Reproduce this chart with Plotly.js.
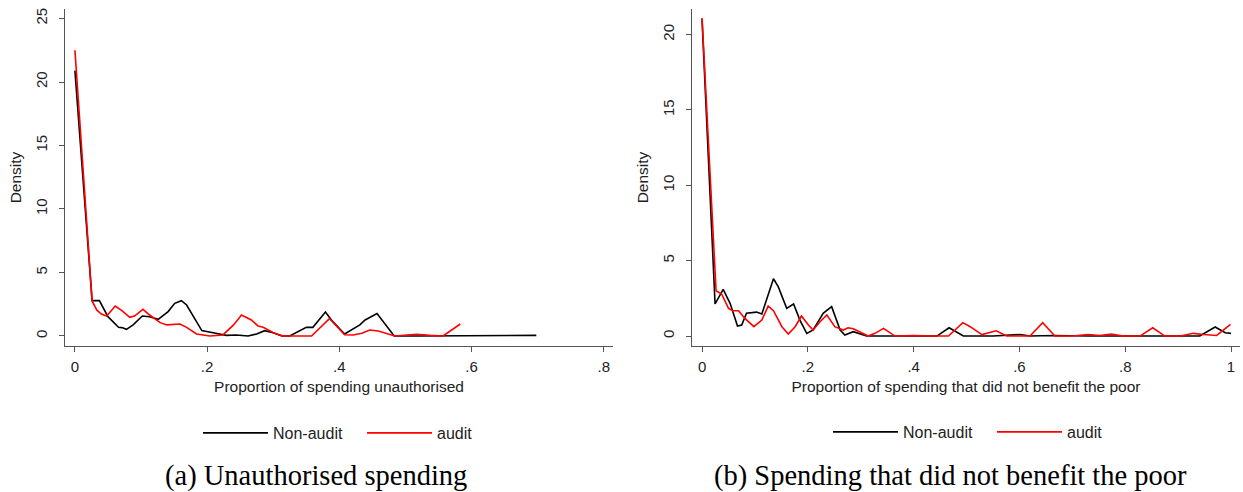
<!DOCTYPE html>
<html>
<head>
<meta charset="utf-8">
<script src="https://cdn.plot.ly/plotly-3.0.1.min.js"></script>
<style>html,body{margin:0;padding:0;background:#fff;}#chart{width:1243px;height:492px;}</style>
</head>
<body>
<div id="chart"></div>
<script>
// ---- data ----
const leftNonAuditX = [0, 0.026, 0.037, 0.050, 0.066, 0.071, 0.078, 0.088, 0.102, 0.113, 0.126, 0.141, 0.151, 0.161, 0.169, 0.192, 0.209, 0.229, 0.244, 0.262, 0.275, 0.287, 0.300, 0.313, 0.325, 0.350, 0.360, 0.371, 0.379, 0.388, 0.408, 0.431, 0.439, 0.457, 0.483, 0.52, 0.56, 0.60, 0.64, 0.66, 0.68, 0.698];
const leftNonAuditY = [20.9, 2.78, 2.78, 1.52, 0.68, 0.66, 0.52, 0.87, 1.57, 1.52, 1.31, 1.92, 2.57, 2.78, 2.44, 0.42, 0.26, 0.05, 0.08, 0.0, 0.16, 0.42, 0.26, 0.0, 0.0, 0.68, 0.68, 1.39, 1.89, 1.26, 0.16, 0.87, 1.26, 1.76, 0.0, 0.0, 0.0, 0.0, 0.0, 0.05, 0.02, 0.05];

const leftAuditX = [0, 0.026, 0.033, 0.040, 0.048, 0.061, 0.071, 0.083, 0.090, 0.103, 0.113, 0.129, 0.139, 0.159, 0.169, 0.184, 0.204, 0.224, 0.240, 0.252, 0.267, 0.277, 0.285, 0.300, 0.315, 0.330, 0.358, 0.385, 0.408, 0.421, 0.434, 0.446, 0.459, 0.484, 0.517, 0.537, 0.557, 0.583];
const leftAuditY = [22.5, 2.76, 2.05, 1.73, 1.57, 2.36, 1.99, 1.47, 1.57, 2.10, 1.65, 1.05, 0.87, 0.94, 0.68, 0.16, 0.0, 0.08, 0.87, 1.65, 1.26, 0.79, 0.68, 0.26, 0.0, 0.0, 0.0, 1.37, 0.10, 0.08, 0.21, 0.47, 0.39, 0.0, 0.13, 0.05, 0.0, 0.94];

const rightNonAuditX = [0, 0.0246, 0.040, 0.053, 0.067, 0.075, 0.084, 0.103, 0.113, 0.135, 0.144, 0.160, 0.173, 0.185, 0.198, 0.210, 0.229, 0.245, 0.261, 0.270, 0.286, 0.311, 0.336, 0.40, 0.444, 0.467, 0.494, 0.55, 0.58, 0.601, 0.62, 0.665, 0.73, 0.80, 0.88, 0.941, 0.970, 0.989, 1.0];
const rightNonAuditY = [21.0, 2.13, 3.1, 2.17, 0.66, 0.73, 1.51, 1.59, 1.46, 3.8, 3.28, 1.84, 2.13, 1.06, 0.18, 0.40, 1.51, 1.95, 0.40, 0.07, 0.29, 0, 0, 0, 0, 0.55, 0, 0, 0.04, 0.10, 0, 0.04, 0, 0, 0, 0, 0.60, 0.22, 0.18];

const rightAuditX = [0, 0.0265, 0.037, 0.050, 0.058, 0.069, 0.081, 0.098, 0.113, 0.125, 0.135, 0.151, 0.163, 0.176, 0.188, 0.201, 0.210, 0.223, 0.236, 0.251, 0.267, 0.276, 0.286, 0.302, 0.314, 0.327, 0.343, 0.365, 0.40, 0.444, 0.466, 0.493, 0.507, 0.529, 0.556, 0.576, 0.620, 0.644, 0.667, 0.70, 0.730, 0.752, 0.774, 0.796, 0.828, 0.852, 0.875, 0.904, 0.929, 0.948, 0.973, 0.999];
const rightAuditY = [21.1, 3.01, 2.79, 1.84, 1.68, 1.68, 1.17, 0.62, 1.06, 1.99, 1.68, 0.62, 0.13, 0.62, 1.33, 0.73, 0.40, 0.95, 1.40, 0.62, 0.40, 0.55, 0.48, 0.18, 0, 0.18, 0.51, 0, 0.04, 0, 0, 0.89, 0.62, 0.10, 0.35, 0, 0, 0.89, 0, 0, 0.10, 0.04, 0.13, 0, 0, 0.55, 0, 0, 0.18, 0.10, 0.04, 0.78];

const seriesNames = ["Non-audit", "audit"];
const leftXTickVals = [0, 0.2, 0.4, 0.6, 0.8];
const leftXTickText = ["0", ".2", ".4", ".6", ".8"];
const rightXTickVals = [0, 0.2, 0.4, 0.6, 0.8, 1];
const rightXTickText = ["0", ".2", ".4", ".6", ".8", "1"];
const leftYTickVals = [0, 5, 10, 15, 20, 25];
const rightYTickVals = [0, 5, 10, 15, 20];
const leftXTitle = "Proportion of spending unauthorised";
const rightXTitle = "Proportion of spending that did not benefit the poor";
const yTitle = "Density";
const captions = ["(a) Unauthorised spending", "(b) Spending that did not benefit the poor"];

// ---- chart ----
const W = 1243, H = 492;
const sans = "Liberation Sans, Arial, Helvetica, sans-serif";
const serif = "Liberation Serif, Times New Roman, serif";
const lw = 1.6;

const traces = [
  {x: leftNonAuditX, y: leftNonAuditY, name: seriesNames[0], type: "scatter", mode: "lines", line: {color: "#000000", width: lw}, xaxis: "x", yaxis: "y", legend: "legend"},
  {x: leftAuditX, y: leftAuditY, name: seriesNames[1], type: "scatter", mode: "lines", line: {color: "#ff0000", width: lw}, xaxis: "x", yaxis: "y", legend: "legend"},
  {x: rightNonAuditX, y: rightNonAuditY, name: seriesNames[0], type: "scatter", mode: "lines", line: {color: "#000000", width: lw}, xaxis: "x2", yaxis: "y2", legend: "legend2"},
  {x: rightAuditX, y: rightAuditY, name: seriesNames[1], type: "scatter", mode: "lines", line: {color: "#ff0000", width: lw}, xaxis: "x2", yaxis: "y2", legend: "legend2"}
];

const yDom = [(H - 346) / H, (H - 9) / H];
function xAxis(dom, range, vals, text, title, anchor) {
  return {
    domain: dom, range: range, anchor: anchor,
    tickvals: vals, ticktext: text,
    ticks: "outside", ticklen: 5, tickwidth: 1, tickcolor: "#555",
    showline: true, linecolor: "#555", linewidth: 1,
    showgrid: false, zeroline: false, automargin: false,
    tickfont: {family: sans, size: 15, color: "#222"},
    ticklabelstandoff: 2,
    title: {text: title, font: {family: sans, size: 15.5, color: "#222"}, standoff: 7},
    fixedrange: true
  };
}
function yAxis(range, vals, anchor) {
  return {
    domain: yDom, range: range, anchor: anchor,
    tickvals: vals, ticks: "outside", ticklen: 5, tickwidth: 1, tickcolor: "#555",
    tickangle: -90,
    showline: true, linecolor: "#555", linewidth: 1,
    showgrid: false, zeroline: false, automargin: false,
    tickfont: {family: sans, size: 15, color: "#222"},
    ticklabelstandoff: 6,
    title: {text: yTitle, font: {family: sans, size: 15.5, color: "#222"}, standoff: 7},
    fixedrange: true
  };
}

const legendCommon = {orientation: "h", xanchor: "left", yanchor: "middle",
  font: {family: sans, size: 16, color: "#222"}, itemwidth: 65, entrywidth: 84,
  bgcolor: "rgba(0,0,0,0)", tracegroupgap: 0};

const layout = {
  width: W, height: H,
  margin: {l: 0, r: 0, t: 0, b: 0},
  paper_bgcolor: "#ffffff", plot_bgcolor: "#ffffff",
  xaxis: xAxis([65 / W, 613 / W], [-0.015, 0.814], leftXTickVals, leftXTickText, leftXTitle, "y"),
  yaxis: yAxis([-0.79, 25.75], leftYTickVals, "x"),
  xaxis2: xAxis([692 / W, 1240 / W], [-0.019, 1.017], rightXTickVals, rightXTickText, rightXTitle, "y2"),
  yaxis2: yAxis([-0.66, 21.7], rightYTickVals, "x2"),
  legend: Object.assign({}, legendCommon, {x: 198 / W, y: (H - 433) / H}),
  legend2: Object.assign({}, legendCommon, {x: 828 / W, y: (H - 432) / H}),
  annotations: [
    {text: captions[0], xref: "paper", yref: "paper", x: 316 / W, y: (H - 476) / H, xanchor: "center", yanchor: "middle", showarrow: false, font: {family: serif, size: 28.5, color: "#000"}},
    {text: captions[1], xref: "paper", yref: "paper", x: 950 / W, y: (H - 476) / H, xanchor: "center", yanchor: "middle", showarrow: false, font: {family: serif, size: 28.5, color: "#000"}}
  ],
  showlegend: true
};

Plotly.newPlot("chart", traces, layout, {displayModeBar: false, staticPlot: true});
</script>
</body>
</html>
